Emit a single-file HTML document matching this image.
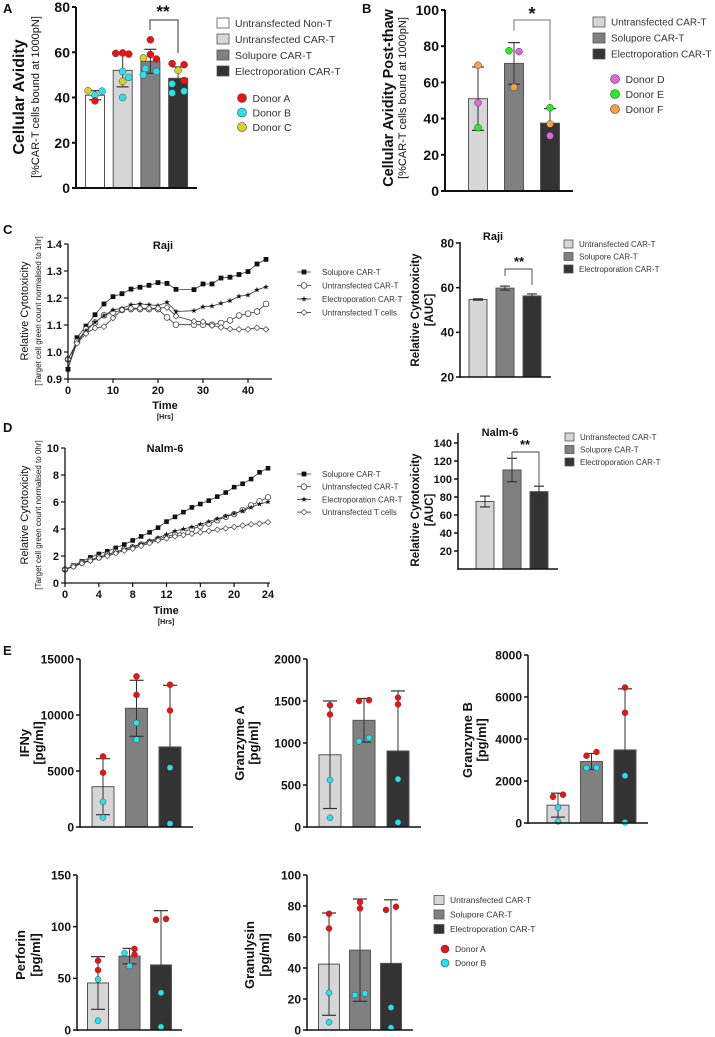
<!DOCTYPE html>
<html><head><meta charset="utf-8"><style>
html,body{margin:0;padding:0;background:#fff;width:715px;height:1037px;overflow:hidden}
svg{display:block;font-family:"Liberation Sans",Arial,sans-serif}
</style></head><body>
<svg id="fig" width="715" height="1037" viewBox="0 0 715 1037"></svg>
<script>
// ---------- DATA ----------
// Panel A
const aCategories=["Untransfected Non-T","Untransfected CAR-T","Solupore CAR-T","Electroporation CAR-T"];
const aValues=[41,52,56,48.5];
const aErrors=[2,7.3,5.3,5];
const aDotValues=[[43,42.8,41,38.5],[59.5,59.7,59.2,51.5,48.9,47.1,40],[65.5,59,57.5,57,52.8,51.5,50],[55,54.5,52,47.5,46,42,42.8]];
const aDotDonors=[[2,1,1,0],[0,0,0,1,1,2,1],[0,0,2,0,1,1,1],[0,0,2,0,1,1,1]];
const aDotJitter=[[-7,7,0,0],[-7,0,6,0,6,0,0],[0,0,-7,6,-5,6,-7],[-6,6,0,6,-6,-6,6]];
const aTicks=[0,20,40,60,80];
// Panel B
const bValues=[51,70.5,37.5];
const bErrors=[17.5,11.5,8];
const bDotValues=[[69.5,48.7,35],[77.5,77,57.3],[46,37,30.5]];
const bDotDonors=[[2,0,1],[1,0,2],[1,2,0]];
const bDotJitter=[[0,0,0],[-5,5,0],[0,0,0]];
const bTicks=[0,20,40,60,80,100];
// Panel C line
const cTimes=[0,2,4,6,8,10,12,14,16,18,20,22,24,28,30,32,34,36,38,40,42,44];
const cSolupore=[0.936,1.053,1.096,1.138,1.178,1.205,1.216,1.233,1.24,1.247,1.257,1.254,1.232,1.231,1.252,1.252,1.274,1.277,1.287,1.298,1.326,1.343];
const cUntransCAR=[0.973,1.038,1.084,1.109,1.136,1.146,1.156,1.159,1.159,1.159,1.159,1.128,1.101,1.101,1.101,1.101,1.107,1.117,1.135,1.142,1.15,1.178];
const cElectro=[0.94,1.035,1.079,1.11,1.135,1.156,1.162,1.175,1.178,1.175,1.172,1.184,1.15,1.153,1.167,1.17,1.18,1.19,1.206,1.211,1.23,1.241];
const cUntransT=[0.973,1.032,1.068,1.089,1.094,1.126,1.156,1.162,1.162,1.162,1.162,1.165,1.133,1.114,1.112,1.098,1.091,1.085,1.084,1.084,1.09,1.084];
const cYTicks=[0.9,1.0,1.1,1.2,1.3,1.4];
const cYTickLabels=["0.9","1.0","1.1","1.2","1.3","1.4"];
const cXTicks=[0,10,20,30,40];
// Panel C bar
const cBarValues=[54.7,59.8,56.3];
const cBarErrors=[0.3,0.9,0.9];
const cBarTicks=[20,40,60,80];
// Panel D line
const dTimes=[0,1,2,3,4,5,6,7,8,9,10,11,12,13,14,15,16,17,18,19,20,21,22,23,24];
const dSolupore=[1,1.3,1.6,1.9,2.15,2.35,2.6,2.85,3.15,3.45,3.75,4.1,4.55,4.9,5.25,5.6,5.85,6.1,6.4,6.7,7.1,7.35,7.7,8.2,8.5];
const dUntransCAR=[1,1.25,1.5,1.7,1.9,2.1,2.3,2.5,2.65,2.85,3.05,3.25,3.45,3.6,3.8,4.0,4.2,4.4,4.65,4.9,5.1,5.4,5.75,6.05,6.35];
const dElectro=[1,1.25,1.5,1.7,1.9,2.1,2.3,2.5,2.7,2.9,3.1,3.35,3.6,3.85,4.0,4.15,4.35,4.55,4.75,4.95,5.15,5.35,5.6,5.85,6.0];
const dUntransT=[1,1.2,1.45,1.65,1.85,2.0,2.2,2.4,2.55,2.75,2.95,3.15,3.3,3.45,3.55,3.65,3.75,3.85,3.95,4.05,4.15,4.25,4.35,4.4,4.5];
const dYTicks=[0,2,4,6,8,10];
const dXTicks=[0,4,8,12,16,20,24];
// Panel D bar
const dBarValues=[75,110,86];
const dBarErrors=[6,13,6];
const dBarTicks=[20,40,60,80,100,120,140];
// Panel E
const eIfnValues=[3600,10600,7150];
const eIfnErrors=[2500,2500,5500];
const eIfnDots=[[6300,4850,2250,850],[13450,11800,9300,7800],[12700,10400,5300,300]];
const eIfnTicks=[0,5000,10000,15000];
const eGzaValues=[860,1270,905];
const eGzaErrors=[640,260,715];
const eGzaDots=[[1450,1340,560,110],[1500,1510,1020,1060],[1540,1460,570,55]];
const eGzaTicks=[0,500,1000,1500,2000];
const eGzbValues=[850,2930,3480];
const eGzbErrors=[570,380,2910];
const eGzbDots=[[1250,1350,730,80],[3200,3380,2620,2630],[6450,5250,2250,30]];
const eGzbTicks=[0,2000,4000,6000,8000];
const ePrfValues=[45.5,71.5,63];
const ePrfErrors=[25.5,7.5,52.5];
const ePrfDots=[[67,58,49,9],[78.5,73,74.5,62],[106.5,107.5,36,3]];
const ePrfTicks=[0,50,100,150];
const eGnlValues=[42.5,51.5,43];
const eGnlErrors=[33,33,41];
const eGnlDots=[[75,65.5,24,5],[82.5,78.5,22.5,23.5],[77.5,79.5,14.5,1.5]];
const eGnlTicks=[0,20,40,60,80,100];
const eDotDonors=[0,0,1,1];

// ---------- DRAW ----------
const NS="http://www.w3.org/2000/svg";
const svg=document.getElementById('fig');
function mk(tag,attrs,name,parent){
  const e=document.createElementNS(NS,tag);
  for(const k in attrs) e.setAttribute(k,attrs[k]);
  
  
  (parent||svg).appendChild(e);
  return e;
}
function txt(x,y,s,size,opt,name){
  opt=opt||{};
  const a={x:x,y:y,'font-size':size,fill:opt.fill||'#111'};
  if(opt.bold) a['font-weight']='bold';
  if(opt.anchor) a['text-anchor']=opt.anchor;
  if(opt.rot) a.transform='rotate(-90 '+x+' '+y+')';
  const t=mk('text',a,name);
  t.textContent=s;
  return t;
}
const barFills=['#ffffff','#d6d6d6','#808080','#333333'];
const donorA=['#ee1111','#22e4ee','#d4d41e'];
const donorB=['#de66de','#22ee22','#f7a044'];

function barChart(c){
  const y=v=>c.y0-(v-c.vmin)/(c.vmax-c.vmin)*(c.y0-c.y1);
  const g=mk('g',{},c.name+'-chart');
  c.values.forEach((v,i)=>{
    const cx=c.c0+i*c.step;
    mk('rect',{x:cx-c.bw/2,y:y(v),width:c.bw,height:c.y0-y(v),fill:c.fills[i],stroke:'#555','stroke-width':1},c.name+'-bar-'+(i+1),g);
    const e=c.errs[i];
    const lo=Math.max(v-e,c.vmin);
    mk('line',{x1:cx,x2:cx,y1:y(v+e),y2:y(lo),stroke:'#333','stroke-width':1},c.name+'-error-bar',g);
    mk('line',{x1:cx-c.cap,x2:cx+c.cap,y1:y(v+e),y2:y(v+e),stroke:'#333','stroke-width':1.2},c.name+'-error-cap',g);
    if(v-e>c.vmin) mk('line',{x1:cx-c.cap,x2:cx+c.cap,y1:y(v-e),y2:y(v-e),stroke:'#333','stroke-width':1.2},c.name+'-error-cap',g);
    if(c.dots){
      c.dots[i].forEach((dv,j)=>{
        const col=c.dotColors[c.donors[i][j]];
        const jx=c.jitter?c.jitter[i][j]:0;
        mk('circle',{cx:cx+jx,cy:y(dv),r:c.r,fill:col,stroke:'#444','stroke-width':0.5},c.name+'-donor-point',g);
      });
    }
  });
  mk('line',{x1:c.x0,x2:c.x0,y1:c.yTop,y2:c.y0+1,stroke:'#111','stroke-width':c.aw},c.name+'-y-axis',g);
  mk('line',{x1:c.x0,x2:c.xEnd,y1:c.y0,y2:c.y0,stroke:'#111','stroke-width':c.aw},c.name+'-x-axis',g);
  c.ticks.forEach(t=>{
    mk('line',{x1:c.x0-4,x2:c.x0,y1:y(t),y2:y(t),stroke:'#111','stroke-width':c.aw},c.name+'-y-tick',g);
    txt(c.x0-6,y(t)+c.fs*0.36,String(t),c.fs,{bold:true,anchor:'end'},c.name+'-y-tick-label');
  });
}

function lineChart(c){
  const x=t=>c.x0+(t-c.tmin)/(c.tmax-c.tmin)*(c.x1-c.x0);
  const y=v=>c.y0-(v-c.vmin)/(c.vmax-c.vmin)*(c.y0-c.y1);
  const g=mk('g',{},c.name+'-chart');
  c.series.forEach((s,si)=>{
    const pts=c.times.map((t,i)=>x(t).toFixed(1)+','+y(s[i]).toFixed(1)).join(' ');
    mk('polyline',{points:pts,fill:'none',stroke:'#333','stroke-width':0.8},c.name+'-line-'+c.keys[si],g);
    c.times.forEach((t,i)=>marker(c.markers[si],x(t),y(s[i]),c.ms,g,c.name+'-point-'+c.keys[si]));
  });
  mk('line',{x1:c.x0,x2:c.x0,y1:c.y1,y2:c.y0+1,stroke:'#111','stroke-width':1.3},c.name+'-y-axis',g);
  mk('line',{x1:c.x0,x2:c.xEnd,y1:c.y0,y2:c.y0,stroke:'#111','stroke-width':1.3},c.name+'-x-axis',g);
  c.yTicks.forEach((t,i)=>{
    mk('line',{x1:c.x0-4,x2:c.x0,y1:y(t),y2:y(t),stroke:'#111','stroke-width':1.2},c.name+'-y-tick',g);
    txt(c.x0-6,y(t)+4,c.yLabels[i],11,{bold:true,anchor:'end'},c.name+'-y-tick-label');
  });
  c.xTicks.forEach(t=>{
    mk('line',{x1:x(t),x2:x(t),y1:c.y0,y2:c.y0+4,stroke:'#111','stroke-width':1.2},c.name+'-x-tick',g);
    txt(x(t),c.y0+15,String(t),11,{bold:true,anchor:'middle'},c.name+'-x-tick-label');
  });
}
function marker(type,x,y,s,g,name){
  if(type==='square') mk('rect',{x:x-s,y:y-s,width:2*s,height:2*s,fill:'#111'},name,g);
  else if(type==='circle') mk('circle',{cx:x,cy:y,r:s*1.2,fill:'#fff',stroke:'#444','stroke-width':0.8},name,g);
  else if(type==='diamond') mk('polygon',{points:`${x},${y-s*1.2} ${x+s*1.2},${y} ${x},${y+s*1.2} ${x-s*1.2},${y}`,fill:'#fff',stroke:'#444','stroke-width':0.7},name,g);
  else if(type==='star'){
    let p=[];for(let k=0;k<10;k++){const r=k%2?s*0.5:s*1.3;const a=-Math.PI/2+k*Math.PI/5;p.push((x+r*Math.cos(a)).toFixed(1)+','+(y+r*Math.sin(a)).toFixed(1));}
    mk('polygon',{points:p.join(' '),fill:'#111'},name,g);
  }
}
function legendBox(x,y,fill,label,fs,w,h,name){
  mk('rect',{x:x,y:y-h/2,width:w,height:h,fill:fill,stroke:'#555','stroke-width':0.8},name+'-swatch');
  txt(x+w+6,y+fs*0.36,label,fs,{fill:'#333'},name);
}
function legendDot(x,y,col,label,fs,r,name){
  mk('circle',{cx:x,cy:y,r:r,fill:col,stroke:'#444','stroke-width':0.6},name+'-marker');
  txt(x+r+6,y+fs*0.36,label,fs,{fill:'#333'},name);
}
function lineLegend(x,y,type,label,name){
  mk('line',{x1:x,x2:x+14,y1:y,y2:y,stroke:'#333','stroke-width':0.8},name+'-line');
  marker(type,x+7,y,2.4,svg,name+'-marker');
  txt(x+25,y+3,label,8,{fill:'#333'},name);
}

// Panel letters
txt(3,13,'A',13,{bold:true},'panel-label-a');
txt(362,13,'B',13,{bold:true},'panel-label-b');
txt(3,234,'C',13,{bold:true},'panel-label-c');
txt(3,432,'D',13,{bold:true},'panel-label-d');
txt(3,655,'E',13,{bold:true},'panel-label-e');

// Panel A
barChart({name:'avidity',x0:76,xEnd:197,y0:188,y1:7,yTop:7,vmin:0,vmax:80,ticks:aTicks,c0:95,step:27.7,bw:19,cap:6,values:aValues,errs:aErrors,fills:barFills,dots:aDotValues,donors:aDotDonors,jitter:aDotJitter,dotColors:donorA,r:3.5,fs:14,aw:2});
txt(24,97,'Cellular Avidity',16,{bold:true,anchor:'middle',rot:true},'avidity-y-axis-title');
txt(39,97,'[%CAR-T cells bound at 1000pN]',11,{anchor:'middle',rot:true},'avidity-y-axis-subtitle');
mk('path',{d:'M150,30 V20 H178 V53',fill:'none',stroke:'#333','stroke-width':1},'avidity-significance-bracket');
txt(163,17,'**',17,{bold:true,anchor:'middle'},'avidity-significance-label');
aCategories.forEach((c,i)=>legendBox(217,23+i*16,barFills[i],c,10.5,12,10,'avidity-legend-entry'));
['Donor A','Donor B','Donor C'].forEach((d,i)=>legendDot(242,98+i*14.5,donorA[i],d,10.5,4.5,'avidity-donor-legend'));

// Panel B
barChart({name:'avidity-post-thaw',x0:445,xEnd:573,y0:191,y1:10,yTop:10,vmin:0,vmax:100,ticks:bTicks,c0:478,step:36,bw:19,cap:6,values:bValues,errs:bErrors,fills:barFills.slice(1),dots:bDotValues,donors:bDotDonors,jitter:bDotJitter,dotColors:donorB,r:3.5,fs:14,aw:2});
txt(393,98,'Cellular Avidity Post-thaw',14.5,{bold:true,anchor:'middle',rot:true},'avidity-post-thaw-y-axis-title');
txt(406,98,'[%CAR-T cells bound at 1000pN]',11,{anchor:'middle',rot:true},'avidity-post-thaw-y-axis-subtitle');
mk('path',{d:'M514,31 V20 H550 V100',fill:'none',stroke:'#777','stroke-width':1},'avidity-post-thaw-significance-bracket');
txt(532,20,'*',18,{bold:true,anchor:'middle'},'avidity-post-thaw-significance-label');
aCategories.slice(1).forEach((c,i)=>legendBox(593,22+i*16,barFills[i+1],c,10,12,10,'avidity-post-thaw-legend-entry'));
['Donor D','Donor E','Donor F'].forEach((d,i)=>legendDot(615,79+i*15,donorB[i],d,10.5,4.5,'avidity-post-thaw-donor-legend'));

// Panel C line
const lineKeys=['solupore','untransfected-car-t','electroporation','untransfected-t'];
const lineMarkers=['square','circle','star','diamond'];
const lineLabels=['Solupore CAR-T','Untransfected CAR-T','Electroporation CAR-T','Untransfected T cells'];
lineChart({name:'raji-cytotoxicity',times:cTimes,series:[cSolupore,cUntransCAR,cElectro,cUntransT],keys:lineKeys,markers:lineMarkers,x0:68,x1:248,tmin:0,tmax:40,xEnd:272,y0:379,y1:244,vmin:0.9,vmax:1.4,yTicks:cYTicks,yLabels:cYTickLabels,xTicks:cXTicks,ms:2.4});
txt(163,249,'Raji',11,{bold:true,anchor:'middle'},'raji-line-title');
txt(28,311,'Relative Cytotoxicity',11,{anchor:'middle',rot:true},'raji-y-axis-title');
txt(41,311,'[Target cell green count normalised to 1hr]',8,{anchor:'middle',rot:true},'raji-y-axis-subtitle');
txt(165,409,'Time',11,{bold:true,anchor:'middle'},'raji-x-axis-title');
txt(165,419,'[Hrs]',7,{bold:true,anchor:'middle'},'raji-x-axis-unit');
lineLabels.forEach((l,i)=>lineLegend(297,272+i*13.5,lineMarkers[i],l,'raji-legend-entry'));

// Panel C bar
barChart({name:'raji-auc',x0:460,xEnd:551,y0:377,y1:243,yTop:242,vmin:20,vmax:80,ticks:cBarTicks,c0:478,step:27,bw:18,cap:5,values:cBarValues,errs:cBarErrors,fills:barFills.slice(1),fs:12,aw:1.5});
txt(493,240,'Raji',11,{bold:true,anchor:'middle'},'raji-auc-title');
txt(419,310,'Relative Cytotoxicity',11.5,{bold:true,anchor:'middle',rot:true},'raji-auc-y-axis-title');
txt(433,310,'[AUC]',11.5,{bold:true,anchor:'middle',rot:true},'raji-auc-y-axis-unit');
mk('path',{d:'M505,276 V269 H532 V285',fill:'none',stroke:'#444','stroke-width':0.9},'raji-auc-significance-bracket');
txt(519,266,'**',13,{bold:true,anchor:'middle'},'raji-auc-significance-label');
aCategories.slice(1).forEach((c,i)=>legendBox(564,244+i*12.5,barFills[i+1],c,8,9,8,'raji-auc-legend-entry'));

// Panel D line
lineChart({name:'nalm6-cytotoxicity',times:dTimes,series:[dSolupore,dUntransCAR,dElectro,dUntransT],keys:lineKeys,markers:lineMarkers,x0:65,x1:268,tmin:0,tmax:24,xEnd:270,y0:583,y1:448,vmin:0,vmax:10,yTicks:dYTicks,yLabels:dYTicks.map(String),xTicks:dXTicks,ms:2.3});
txt(165,452,'Nalm-6',11,{bold:true,anchor:'middle'},'nalm6-line-title');
txt(28,515,'Relative Cytotoxicity',11,{anchor:'middle',rot:true},'nalm6-y-axis-title');
txt(41,515,'[Target cell green count normalised to 0hr]',8,{anchor:'middle',rot:true},'nalm6-y-axis-subtitle');
txt(166,614,'Time',11,{bold:true,anchor:'middle'},'nalm6-x-axis-title');
txt(166,624,'[Hrs]',7,{bold:true,anchor:'middle'},'nalm6-x-axis-unit');
lineLabels.forEach((l,i)=>lineLegend(297,474+i*12.7,lineMarkers[i],l,'nalm6-legend-entry'));

// Panel D bar
barChart({name:'nalm6-auc',x0:458,xEnd:558,y0:569,y1:443,yTop:433,vmin:0,vmax:140,ticks:dBarTicks,c0:485,step:27,bw:18,cap:5,values:dBarValues,errs:dBarErrors,fills:barFills.slice(1),fs:11,aw:1.5});
txt(500,436,'Nalm-6',11,{bold:true,anchor:'middle'},'nalm6-auc-title');
txt(419,510,'Relative Cytotoxicity',11.5,{bold:true,anchor:'middle',rot:true},'nalm6-auc-y-axis-title');
txt(433,510,'[AUC]',11.5,{bold:true,anchor:'middle',rot:true},'nalm6-auc-y-axis-unit');
mk('path',{d:'M512,458 V452 H539 V486',fill:'none',stroke:'#444','stroke-width':0.9},'nalm6-auc-significance-bracket');
txt(525,449,'**',13,{bold:true,anchor:'middle'},'nalm6-auc-significance-label');
aCategories.slice(1).forEach((c,i)=>legendBox(565,437+i*12.5,barFills[i+1],c,8,9,8,'nalm6-auc-legend-entry'));

// Panel E
const eDonors=[eDotDonors,eDotDonors,eDotDonors];
const eJit0=[[0,0,0,0],[0,0,0,0],[0,0,0,0]];
barChart({name:'ifng',x0:80,xEnd:193,y0:827,y1:659,yTop:659,vmin:0,vmax:15000,ticks:eIfnTicks,c0:103,step:33.5,bw:22,cap:7,values:eIfnValues,errs:eIfnErrors,fills:barFills.slice(1),dots:eIfnDots,donors:eDonors,jitter:eJit0,dotColors:donorA,r:3,fs:12,aw:1.5});
txt(29,743,'IFNy',13,{bold:true,anchor:'middle',rot:true},'ifng-y-axis-title');
txt(43,743,'[pg/ml]',13,{bold:true,anchor:'middle',rot:true},'ifng-y-axis-unit');
barChart({name:'granzyme-a',x0:307,xEnd:421,y0:827,y1:659,yTop:659,vmin:0,vmax:2000,ticks:eGzaTicks,c0:330,step:34,bw:22,cap:7,values:eGzaValues,errs:eGzaErrors,fills:barFills.slice(1),dots:eGzaDots,donors:eDonors,jitter:[[0,0,0,0],[-5,5,-5,5],[0,0,0,0]],dotColors:donorA,r:3,fs:12,aw:1.5});
txt(244,743,'Granzyme A',13,{bold:true,anchor:'middle',rot:true},'granzyme-a-y-axis-title');
txt(258,743,'[pg/ml]',13,{bold:true,anchor:'middle',rot:true},'granzyme-a-y-axis-unit');
barChart({name:'granzyme-b',x0:528,xEnd:648,y0:823,y1:655,yTop:655,vmin:0,vmax:8000,ticks:eGzbTicks,c0:558,step:33.5,bw:22,cap:7,values:eGzbValues,errs:eGzbErrors,fills:barFills.slice(1),dots:eGzbDots,donors:eDonors,jitter:[[-5,5,0,0],[-5,5,-5,5],[0,0,0,0]],dotColors:donorA,r:3,fs:12,aw:1.5});
txt(472,740,'Granzyme B',13,{bold:true,anchor:'middle',rot:true},'granzyme-b-y-axis-title');
txt(486,740,'[pg/ml]',13,{bold:true,anchor:'middle',rot:true},'granzyme-b-y-axis-unit');
barChart({name:'perforin',x0:77,xEnd:182,y0:1030,y1:875,yTop:875,vmin:0,vmax:150,ticks:ePrfTicks,c0:98,step:31.5,bw:21,cap:7,values:ePrfValues,errs:ePrfErrors,fills:barFills.slice(1),dots:ePrfDots,donors:[eDotDonors,[0,0,1,1],eDotDonors],jitter:[[0,0,0,0],[5,5,-5,0],[-5,5,0,0]],dotColors:donorA,r:3,fs:12,aw:1.5});
txt(25,955,'Perforin',13,{bold:true,anchor:'middle',rot:true},'perforin-y-axis-title');
txt(40,955,'[pg/ml]',13,{bold:true,anchor:'middle',rot:true},'perforin-y-axis-unit');
barChart({name:'granulysin',x0:307,xEnd:413,y0:1030,y1:875,yTop:875,vmin:0,vmax:100,ticks:eGnlTicks,c0:329,step:31,bw:21,cap:7,values:eGnlValues,errs:eGnlErrors,fills:barFills.slice(1),dots:eGnlDots,donors:eDonors,jitter:[[0,0,0,0],[0,0,-5,5],[-5,5,0,0]],dotColors:donorA,r:3,fs:12,aw:1.5});
txt(254,955,'Granulysin',13,{bold:true,anchor:'middle',rot:true},'granulysin-y-axis-title');
txt(269,955,'[pg/ml]',13,{bold:true,anchor:'middle',rot:true},'granulysin-y-axis-unit');
aCategories.slice(1).forEach((c,i)=>legendBox(434,900+i*14.5,barFills[i+1],c,8.5,10,9,'cytokine-legend-entry'));
['Donor A','Donor B'].forEach((d,i)=>legendDot(445,949+i*14,donorA[i],d,8.5,4,'cytokine-donor-legend'));
</script>
</body></html>
